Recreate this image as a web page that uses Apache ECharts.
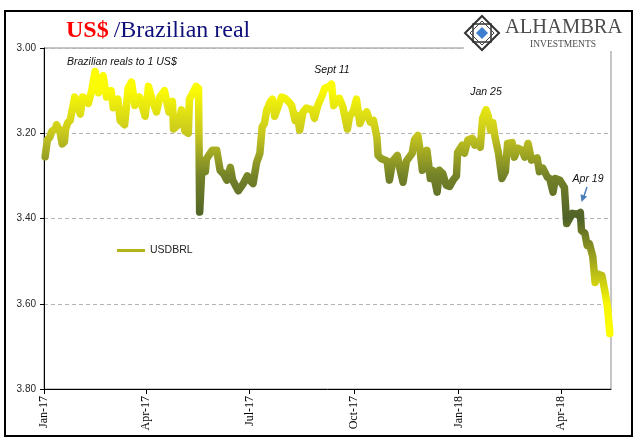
<!DOCTYPE html>
<html>
<head>
<meta charset="utf-8">
<script src="https://cdn.jsdelivr.net/npm/echarts@6/dist/echarts.min.js"></script>
<style>html,body{margin:0;padding:0;background:#fff}#c{width:641px;height:441px}</style>
</head>
<body>
<div id="c"></div>
<script>
// ---- data ----
const dates = [
'2017-01-02','2017-01-04','2017-01-06','2017-01-08','2017-01-11','2017-01-12','2017-01-15','2017-01-17','2017-01-19','2017-01-20',
'2017-01-22','2017-01-24','2017-01-27','2017-01-28','2017-01-29','2017-02-02','2017-02-04','2017-02-07','2017-02-09','2017-02-12',
'2017-02-15','2017-02-18','2017-02-19','2017-02-22','2017-02-25','2017-03-01','2017-03-03','2017-03-07','2017-03-09','2017-03-13',
'2017-03-16','2017-03-19','2017-03-22','2017-03-26','2017-03-31','2017-04-03','2017-04-06','2017-04-10','2017-04-13','2017-04-17',
'2017-04-21','2017-04-24','2017-04-25','2017-04-29','2017-05-02','2017-05-05','2017-05-08','2017-05-09','2017-05-12','2017-05-15',
'2017-05-17','2017-05-18','2017-05-20','2017-05-23','2017-05-24','2017-05-29','2017-06-02','2017-06-05','2017-06-08','2017-06-11',
'2017-06-14','2017-06-16','2017-06-21','2017-06-25','2017-06-29','2017-07-01','2017-07-04','2017-07-07','2017-07-10','2017-07-12',
'2017-07-14','2017-07-16','2017-07-19','2017-07-21','2017-07-23','2017-07-26','2017-07-29','2017-08-01','2017-08-04','2017-08-07',
'2017-08-10','2017-08-12','2017-08-14','2017-08-17','2017-08-20','2017-08-25','2017-08-27','2017-08-30','2017-09-03','2017-09-05',
'2017-09-09','2017-09-11','2017-09-13','2017-09-16','2017-09-18','2017-09-21','2017-09-25','2017-09-27','2017-09-30','2017-10-03',
'2017-10-06','2017-10-09','2017-10-12','2017-10-15','2017-10-18','2017-10-21','2017-10-22','2017-10-25','2017-10-30','2017-11-01',
'2017-11-04','2017-11-08','2017-11-10','2017-11-13','2017-11-16','2017-11-21','2017-11-23','2017-11-26','2017-11-28','2017-11-30',
'2017-12-04','2017-12-07','2017-12-09','2017-12-13','2017-12-15','2017-12-18','2017-12-21','2017-12-24','2017-12-27','2017-12-30',
'2017-12-31','2018-01-04','2018-01-06','2018-01-09','2018-01-13','2018-01-15','2018-01-18','2018-01-20','2018-01-22','2018-01-25',
'2018-01-27','2018-01-29','2018-01-31','2018-02-02','2018-02-05','2018-02-08','2018-02-11','2018-02-13','2018-02-17','2018-02-19',
'2018-02-22','2018-02-26','2018-02-28','2018-03-03','2018-03-06','2018-03-11','2018-03-13','2018-03-16','2018-03-20','2018-03-22',
'2018-03-25','2018-03-27','2018-03-31','2018-04-04','2018-04-06','2018-04-07','2018-04-11','2018-04-15','2018-04-18','2018-04-19',
'2018-04-22','2018-04-24','2018-04-26','2018-04-29','2018-05-01','2018-05-03','2018-05-07','2018-05-10','2018-05-12','2018-05-14'
];
const usdbrl = [
3.255,3.215,3.21,3.195,3.19,3.18,3.195,3.225,3.22,3.19,
3.175,3.17,3.13,3.115,3.12,3.155,3.115,3.12,3.13,3.10,
3.055,3.105,3.095,3.065,3.115,3.10,3.14,3.12,3.17,3.18,
3.095,3.08,3.135,3.115,3.16,3.09,3.12,3.15,3.115,3.10,
3.15,3.125,3.19,3.18,3.145,3.195,3.20,3.12,3.105,3.09,
3.095,3.385,3.28,3.29,3.26,3.24,3.24,3.287,3.295,3.31,
3.28,3.31,3.335,3.32,3.30,3.31,3.318,3.27,3.247,3.185,
3.177,3.146,3.127,3.12,3.16,3.138,3.115,3.118,3.125,3.135,
3.17,3.158,3.193,3.15,3.141,3.145,3.165,3.135,3.11,3.095,
3.09,3.085,3.135,3.12,3.118,3.138,3.19,3.16,3.15,3.12,
3.177,3.158,3.15,3.174,3.17,3.21,3.252,3.26,3.265,3.31,
3.265,3.252,3.28,3.315,3.265,3.247,3.216,3.205,3.24,3.287,
3.24,3.306,3.287,3.338,3.287,3.295,3.322,3.325,3.31,3.30,
3.245,3.228,3.247,3.216,3.212,3.228,3.22,3.233,3.165,3.145,
3.16,3.193,3.175,3.21,3.247,3.306,3.29,3.224,3.222,3.256,
3.235,3.24,3.256,3.224,3.263,3.258,3.29,3.282,3.303,3.306,
3.338,3.306,3.31,3.327,3.412,3.416,3.388,3.39,3.386,3.428,
3.435,3.463,3.459,3.49,3.55,3.53,3.534,3.576,3.609,3.67
];
const seriesName = 'USDBRL';
const xTickDates = ['2017-01-01','2017-04-01','2017-07-01','2017-10-01','2018-01-01','2018-04-01'];
const yTicks = [3.00, 3.20, 3.40, 3.60, 3.80];
const monthNames = ['Jan','Feb','Mar','Apr','May','Jun','Jul','Aug','Sep','Oct','Nov','Dec'];

function ts(s){ const p = s.split('-'); return new Date(+p[0], +p[1]-1, +p[2]).getTime(); }
const seriesData = dates.map((d,i)=>[ts(d), usdbrl[i]]);
const tickTs = xTickDates.map(ts);

const chart = echarts.init(document.getElementById('c'), null, {renderer:'canvas'});
chart.setOption({
  animation:false,
  backgroundColor:'#ffffff',
  title:{
    text:'{a|US$} {b|/Brazilian real}',
    left:61, top:14,
    textStyle:{fontWeight:'normal', rich:{
      a:{fontFamily:'Liberation Serif',fontSize:24,fontWeight:'bold',color:'#ff0000'},
      b:{fontFamily:'Liberation Serif',fontSize:24,fontWeight:'normal',color:'#10107a'}
    }}
  },
  grid:{left:44, right:30, top:48, bottom:52, show:true, borderColor:'#8c8c8c', borderWidth:1, backgroundColor:'transparent'},
  legend:{
    left:112, top:240, icon:'rect', itemWidth:28, itemHeight:3,
    data:[{name:seriesName, itemStyle:{color:'#b3b31c'}}],
    textStyle:{fontFamily:'Liberation Sans', fontSize:10.5, color:'#222'}
  },
  visualMap:{
    show:false, type:'continuous', dimension:1, seriesIndex:0,
    min:3.0, max:3.7,
    inRange:{color:['#ffff00','#fafa06','#c8c81e','#748228','#4f6228','#a4a81c','#f6f604','#ffff00']}
  },
  xAxis:{
    type:'value',
    min:ts('2017-01-01'), max:ts('2018-05-15'),
    axisLine:{lineStyle:{color:'#000',width:1}},
    axisTick:{show:true, length:5, lineStyle:{color:'#000'}, customValues:tickTs},
    axisLabel:{
      customValues:tickTs, rotate:90, margin:7,
      fontFamily:'Liberation Serif', fontSize:12, color:'#000',
      formatter:function(v){ const d=new Date(v); return monthNames[d.getMonth()]+'-'+String(d.getFullYear()).slice(2); }
    },
    splitLine:{show:false}
  },
  yAxis:{
    type:'value', inverse:true, min:3.0, max:3.8, interval:0.2,
    axisLine:{show:true, lineStyle:{color:'#000',width:1}},
    axisTick:{show:true, length:4, lineStyle:{color:'#000'}},
    axisLabel:{margin:8, fontFamily:'Liberation Sans', fontSize:10, color:'#262626',
      formatter:function(v){ return v.toFixed(2); }},
    splitLine:{show:true, lineStyle:{color:'#b4b4b4', type:[4,3], width:1}}
  },
  series:[{
    name:seriesName, type:'line', data:seriesData, showSymbol:false, symbol:'none',
    lineStyle:{width:7.5, cap:'round', join:'round'},
    itemStyle:{color:'#b3b31c'}
  }],
  graphic:[
    {type:'rect', shape:{x:5, y:11, width:627, height:425}, style:{fill:'none', stroke:'#000', lineWidth:2}, z:100},
    {type:'rect', shape:{x:464, y:14, width:166, height:37}, style:{fill:'#fff'}, z:101},
    {type:'polygon', shape:{points:[[482,16],[499,33],[482,50],[465,33]]}, style:{fill:'#fff', stroke:'#333', lineWidth:2}, z:102},
    {type:'rect', shape:{x:473, y:24, width:18, height:18}, style:{fill:'none', stroke:'#333', lineWidth:1.5}, z:102},
    {type:'polygon', shape:{points:[[482,21],[494,33],[482,45],[470,33]]}, style:{fill:'none', stroke:'#444', lineWidth:1}, z:102},
    {type:'polygon', shape:{points:[[482,27],[488,33],[482,39],[476,33]]}, style:{fill:'#3f7fcf'}, z:103},
    {type:'text', style:{x:505, y:38, text:'ALHAMBRA', fontFamily:'Liberation Serif', fontSize:20.5, fill:'#4d4d4d', textVerticalAlign:'bottom'}, z:102},
    {type:'text', style:{x:563, y:44, text:'INVESTMENTS', fontFamily:'Liberation Serif', fontSize:9.5, fill:'#4d4d4d', textAlign:'center', textVerticalAlign:'middle'}, z:102},
    {type:'text', style:{x:67, y:62, text:'Brazilian reals to 1 US$', fontFamily:'Liberation Sans', fontStyle:'italic', fontSize:10.5, fill:'#111', textVerticalAlign:'middle'}, z:50},
    {type:'text', style:{x:332, y:70, text:'Sept 11', fontFamily:'Liberation Sans', fontStyle:'italic', fontSize:10.5, fill:'#111', textAlign:'center', textVerticalAlign:'middle'}, z:50},
    {type:'text', style:{x:486, y:92, text:'Jan 25', fontFamily:'Liberation Sans', fontStyle:'italic', fontSize:10.5, fill:'#111', textAlign:'center', textVerticalAlign:'middle'}, z:50},
    {type:'text', style:{x:588, y:179, text:'Apr 19', fontFamily:'Liberation Sans', fontStyle:'italic', fontSize:10.5, fill:'#111', textAlign:'center', textVerticalAlign:'middle'}, z:50},
    {type:'line', shape:{x1:587, y1:187, x2:584, y2:196}, style:{stroke:'#4a7ebb', lineWidth:1.5}, z:50},
    {type:'polygon', shape:{points:[[581.5,202],[587.1,196.5],[580.5,194.3]]}, style:{fill:'#4a7ebb'}, z:50}
  ]
});
</script>
</body>
</html>
